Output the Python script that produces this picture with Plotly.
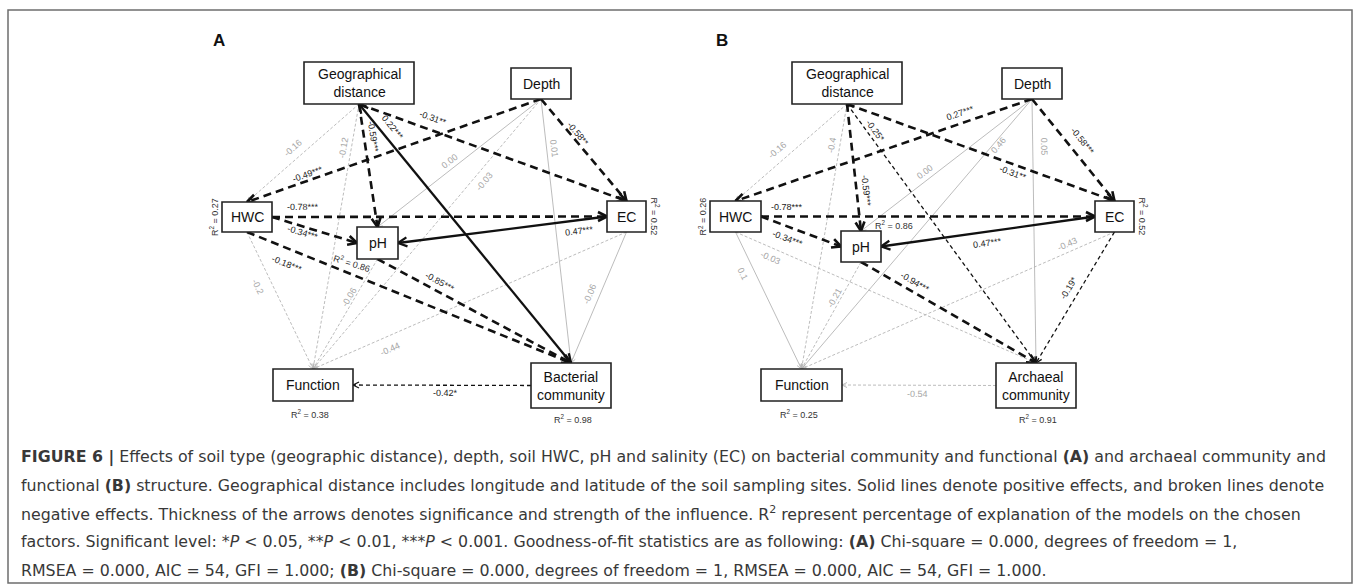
import math
import plotly.graph_objects as go

W, H = 1358, 585

# ------------------------------------------------------------------
# Structural equation model results
# ------------------------------------------------------------------
# Panel A: bacterial community and function
path_src_A = ["geo", "geo", "geo", "geo", "geo",
              "depth", "depth", "depth", "depth", "depth",
              "hwc", "hwc", "hwc", "hwc",
              "ph", "ph",
              "ec", "ec", "ec",
              "comm"]
path_dst_A = ["hwc", "func", "ph", "comm", "ec",
              "hwc", "ph", "func", "comm", "ec",
              "ec", "ph", "comm", "func",
              "comm", "func",
              "ph", "func", "comm",
              "func"]
path_coef_A = ["-0.16", "-0.12", "-0.59", "0.22", "-0.31",
               "-0.49", "0.00", "-0.03", "0.01", "-0.58",
               "-0.78", "-0.34", "-0.18", "-0.2",
               "-0.85", "-0.06",
               "0.47", "-0.44", "-0.06",
               "-0.42"]
path_sig_A = ["", "", "***", "***", "**",
              "***", "", "", "", "**",
              "***", "***", "***", "",
              "***", "",
              "***", "", "",
              "*"]
r2_A = {"hwc": "0.27", "ec": "0.52", "ph": "0.86", "func": "0.38", "comm": "0.98"}

# Panel B: archaeal community and function
path_src_B = ["geo", "geo", "geo", "geo", "geo",
              "depth", "depth", "depth", "depth", "depth",
              "hwc", "hwc", "hwc", "hwc",
              "ph", "ph",
              "ec", "ec", "ec",
              "comm"]
path_dst_B = ["hwc", "func", "ph", "comm", "ec",
              "hwc", "ph", "func", "comm", "ec",
              "ec", "ph", "comm", "func",
              "comm", "func",
              "ph", "func", "comm",
              "func"]
path_coef_B = ["-0.16", "-0.4", "-0.59", "-0.25", "-0.31",
               "0.27", "0.00", "0.46", "0.05", "-0.58",
               "-0.78", "-0.34", "-0.03", "0.1",
               "-0.94", "-0.21",
               "0.47", "-0.43", "-0.19",
               "-0.54"]
path_sig_B = ["", "", "***", "*", "**",
              "***", "", "", "", "***",
              "***", "***", "", "",
              "***", "",
              "***", "", "*",
              ""]
r2_B = {"hwc": "0.26", "ec": "0.52", "ph": "0.86", "func": "0.25", "comm": "0.91"}

node_names = {"geo": "Geographical<br>distance", "depth": "Depth", "hwc": "HWC",
              "ph": "pH", "ec": "EC", "func": "Function"}
community_A = "Bacterial<br>community"
community_B = "Archaeal<br>community"

caption_lines = [
    "<b>FIGURE 6 |</b> Effects of soil type (geographic distance), depth, soil HWC, pH and salinity (EC) "
    "on bacterial community and functional <b>(A)</b> and archaeal community and",
    "functional <b>(B)</b> structure. Geographical distance includes longitude and latitude of the soil "
    "sampling sites. Solid lines denote positive effects, and broken lines denote",
    "negative effects. Thickness of the arrows denotes significance and strength of the influence. "
    "R<sup>2</sup> represent percentage of explanation of the models on the chosen",
    "factors. Significant level: *<i>P</i> &lt; 0.05, **<i>P</i> &lt; 0.01, ***<i>P</i> &lt; 0.001. "
    "Goodness-of-fit statistics are as following: <b>(A)</b> Chi-square = 0.000, degrees of freedom = 1,",
    "RMSEA = 0.000, AIC = 54, GFI = 1.000; <b>(B)</b> Chi-square = 0.000, degrees of freedom = 1, "
    "RMSEA = 0.000, AIC = 54, GFI = 1.000.",
]

# ------------------------------------------------------------------
# Diagram layout (pixel space, y grows downward)
# ------------------------------------------------------------------
boxes_A = {"geo": (304, 62, 414, 104), "depth": (511, 68, 571, 99),
           "hwc": (222, 202, 272, 232), "ph": (357, 227, 398, 259),
           "ec": (607, 201, 646, 232), "func": (273, 369, 353, 401),
           "comm": (531, 363, 611, 408)}
boxes_B = {"geo": (792, 62, 902, 104), "depth": (1002, 68, 1062, 99),
           "hwc": (710, 201, 761, 232), "ph": (841, 231, 881, 262),
           "ec": (1095, 201, 1134, 232), "func": (761, 369, 842, 401),
           "comm": (996, 363, 1076, 408)}

# label position along each path (fraction) and sideways offset (px)
label_t_A = [0.53, 0.17, 0.28, 0.12, 0.26, 0.785, 0.53, 0.28, 0.19, 0.38,
             0.094, 0.39, 0.14, 0.356, 0.30, 0.37, 0.14, 0.77, 0.50, 0.48]
label_off_A = [-10, -8, 9, 11, 12, -6, -7, 10, 7, 6,
               10, -6, -15, -14, 9, -5, 11, 13, -10, 8]
label_t_B = [0.56, 0.16, 0.69, 0.12, 0.63, 0.23, 0.60, 0.16, 0.18, 0.49,
             0.077, 0.39, 0.13, 0.27, 0.28, 0.36, 0.51, 0.14, 0.47, 0.51]
label_off_B = [-11, -8, 10, 7, -8, -10, -8, 5, 11, 13,
               10, -11, -10, -12, 9, -6, 11, -8, -10, 9]

# line pattern exceptions (index -> dashed?) and double-headed paths
dash_override_A = {18: False}
dash_override_B = {5: True}
double_head_A = {3}
double_head_B = {3}

FONT = "Liberation Sans, Arial, sans-serif"
CAPTION_FONT = "DejaVu Sans, Verdana, sans-serif"


def port(box, side):
    x0, y0, x1, y1 = box
    cx, cy = (x0 + x1) / 2, (y0 + y1) / 2
    return {"top": (cx, y0), "bottom": (cx, y1),
            "left": (x0, cy), "right": (x1, cy)}[side]


def endpoints(bs, bd):
    cxs, cys = (bs[0] + bs[2]) / 2, (bs[1] + bs[3]) / 2
    cxd, cyd = (bd[0] + bd[2]) / 2, (bd[1] + bd[3]) / 2
    if abs(cys - cyd) < 40:
        if cxs < cxd:
            return port(bs, "right"), port(bd, "left")
        return port(bs, "left"), port(bd, "right")
    if cys < cyd:
        return port(bs, "bottom"), port(bd, "top")
    return port(bs, "top"), port(bd, "bottom")


def style_for(sig, coef, override):
    dashed = float(coef) < 0 if override is None else override
    if sig in ("***", "**"):
        return dict(color="#111111", width=2.6 if dashed else 2.3,
                    dash="8px,5px" if dashed else "solid", head=(9, 4.5),
                    text="#1a1a1a", order=2)
    if sig == "*":
        return dict(color="#111111", width=1.3,
                    dash="4px,3px" if dashed else "solid", head=(6, 3),
                    text="#1a1a1a", order=1)
    return dict(color="#b4b4b4", width=0.9,
                dash="3px,2px" if dashed else "solid", head=(5, 2.5),
                text="#a6a6a6", order=0)


fig = go.Figure()
annotations = []
shapes = []


def head_trace(tip, tail, st):
    L, w = st["head"]
    dx, dy = tip[0] - tail[0], tip[1] - tail[1]
    ln = math.hypot(dx, dy)
    ux, uy = dx / ln, dy / ln
    nx, ny = -uy, ux
    bx, by = tip[0] - ux * L, tip[1] - uy * L
    return go.Scatter(x=[bx + nx * w, tip[0], bx - nx * w],
                      y=[by + ny * w, tip[1], by - ny * w],
                      mode="lines", line=dict(color=st["color"], width=st["width"]),
                      hoverinfo="skip", showlegend=False)


def draw_panel(src, dst, coefs, sigs, boxes, lt, lo, dov, dbl, r2, comm_name, letter, letter_x):
    items = []
    for i in range(len(src)):
        st = style_for(sigs[i], coefs[i], dov.get(i))
        items.append((st["order"], i, st))
    items.sort(key=lambda t: t[0])
    for _, i, st in items:
        p0, p1 = endpoints(boxes[src[i]], boxes[dst[i]])
        fig.add_trace(go.Scatter(x=[p0[0], p1[0]], y=[p0[1], p1[1]], mode="lines",
                                 line=dict(color=st["color"], width=st["width"], dash=st["dash"]),
                                 hoverinfo="skip", showlegend=False))
        fig.add_trace(head_trace(p1, p0, st))
        if i in dbl:
            fig.add_trace(head_trace(p0, p1, st))
        dx, dy = p1[0] - p0[0], p1[1] - p0[1]
        ln = math.hypot(dx, dy)
        nx, ny = dy / ln, -dx / ln
        lx = p0[0] + lt[i] * dx + lo[i] * nx
        ly = p0[1] + lt[i] * dy + lo[i] * ny
        ang = math.degrees(math.atan2(dy, dx))
        if ang > 90:
            ang -= 180
        elif ang < -90:
            ang += 180
        annotations.append(dict(x=lx, y=ly, xref="x", yref="y", showarrow=False,
                                text=coefs[i] + sigs[i], textangle=ang,
                                font=dict(family=FONT, size=9, color=st["text"])))
    # variable boxes
    for key, b in boxes.items():
        shapes.append(dict(type="rect", xref="x", yref="y", x0=b[0], y0=b[1], x1=b[2], y1=b[3],
                           line=dict(color="#222222", width=1.6), fillcolor="white", layer="above"))
        name = comm_name if key == "comm" else node_names[key]
        annotations.append(dict(x=(b[0] + b[2]) / 2, y=(b[1] + b[3]) / 2, xref="x", yref="y",
                                showarrow=False, text=name,
                                font=dict(family=FONT, size=14, color="#111111")))
    # explained variance
    r2font = dict(family=FONT, size=9, color="#333333")
    hb, eb, pb, fb, cb = boxes["hwc"], boxes["ec"], boxes["ph"], boxes["func"], boxes["comm"]
    annotations.append(dict(x=hb[0] - 8, y=(hb[1] + hb[3]) / 2, text="R<sup>2</sup> = " + r2["hwc"],
                            textangle=-90, font=r2font))
    annotations.append(dict(x=eb[2] + 9, y=(eb[1] + eb[3]) / 2, text="R<sup>2</sup> = " + r2["ec"],
                            textangle=90, font=r2font))
    if letter == "A":
        annotations.append(dict(x=pb[0] - 5, y=pb[3] + 4, text="R<sup>2</sup> = " + r2["ph"],
                                textangle=17, font=r2font))
    else:
        annotations.append(dict(x=pb[2] + 13, y=pb[1] - 6, text="R<sup>2</sup> = " + r2["ph"],
                                textangle=0, font=r2font))
    annotations.append(dict(x=(fb[0] + fb[2]) / 2 - 3, y=fb[3] + 13, text="R<sup>2</sup> = " + r2["func"],
                            font=r2font))
    annotations.append(dict(x=(cb[0] + cb[2]) / 2 + 2, y=cb[3] + 11, text="R<sup>2</sup> = " + r2["comm"],
                            font=r2font))
    annotations.append(dict(x=letter_x, y=40, text="<b>" + letter + "</b>",
                            font=dict(family=FONT, size=17, color="#111111")))


draw_panel(path_src_A, path_dst_A, path_coef_A, path_sig_A, boxes_A, label_t_A, label_off_A,
           dash_override_A, double_head_A, r2_A, community_A, "A", 219)
draw_panel(path_src_B, path_dst_B, path_coef_B, path_sig_B, boxes_B, label_t_B, label_off_B,
           dash_override_B, double_head_B, r2_B, community_B, "B", 722)

for a in annotations:
    a.setdefault("xref", "x")
    a.setdefault("yref", "y")
    a.setdefault("showarrow", False)

# caption
for k, line in enumerate(caption_lines):
    annotations.append(dict(x=19, y=457 + 28.3 * k, xref="x", yref="y", showarrow=False,
                            xanchor="left", yanchor="middle", text=line,
                            font=dict(family=CAPTION_FONT, size=15.8, color="#383838")))

# figure frame
shapes.append(dict(type="rect", xref="x", yref="y", x0=8, y0=10, x1=1352, y1=583,
                   line=dict(color="#6e6e6e", width=1.5), fillcolor="rgba(0,0,0,0)", layer="below"))

fig.update_layout(
    width=W, height=H, margin=dict(l=0, r=0, t=0, b=0),
    paper_bgcolor="white", plot_bgcolor="white",
    xaxis=dict(range=[0, W], visible=False, fixedrange=True),
    yaxis=dict(range=[H, 0], visible=False, fixedrange=True),
    shapes=shapes, annotations=annotations, showlegend=False,
)

fig.write_html("out.html")
